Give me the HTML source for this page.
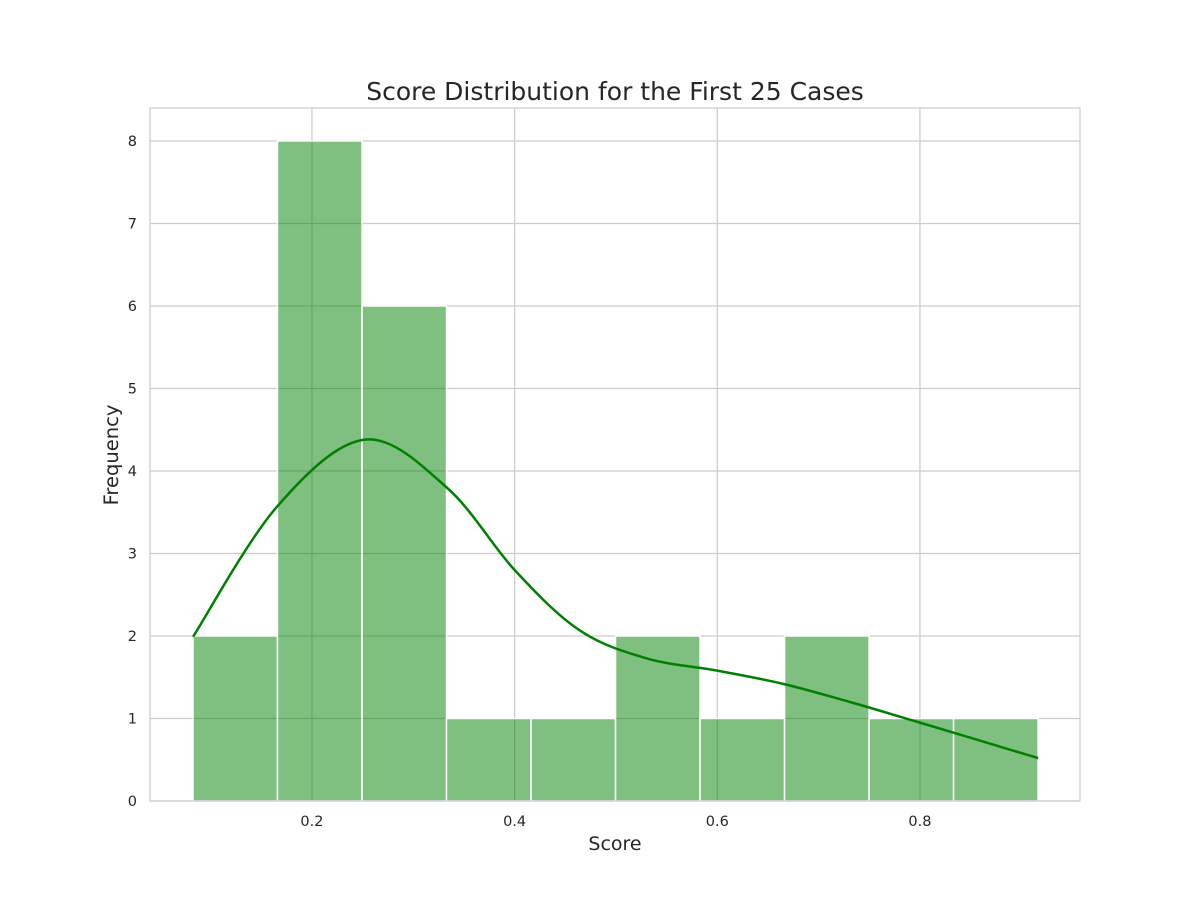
<!DOCTYPE html>
<html><head><meta charset="utf-8"><style>
body{margin:0;background:#fff;}
svg text{font-family:"DejaVu Sans","Liberation Sans",sans-serif;fill:#262626;}
</style></head><body>
<svg id="chart" width="1200" height="900">
<rect x="0" y="0" width="1200" height="900" fill="#fff"/>
<g id="grid"></g><g id="bars"></g><g id="kde"></g><g id="ticks"></g>
<rect x="150" y="108" width="930" height="693" fill="none" stroke="#cccccc" stroke-width="1.25"/>
<text x="615" y="100" font-size="25" text-anchor="middle">Score Distribution for the First 25 Cases</text>
<text x="615" y="850" font-size="19" text-anchor="middle">Score</text>
<text x="118" y="455" font-size="19.5" text-anchor="middle" transform="rotate(-90 118 455)">Frequency</text>
</svg>
<script>
const binEdgeStart = 0.0826;
const binWidth = 0.0834;
const counts = [2, 8, 6, 1, 1, 2, 1, 2, 1, 1];
const xTicks = [0.2, 0.4, 0.6, 0.8];
const xTickLabels = ["0.2", "0.4", "0.6", "0.8"];
const yTicks = [0, 1, 2, 3, 4, 5, 6, 7, 8];
const kdeX = [0.0826, 0.165, 0.252, 0.333, 0.4, 0.464, 0.53, 0.6, 0.665, 0.731, 0.8, 0.9166];
const kdeY = [1.99, 3.56, 4.38, 3.8, 2.8, 2.07, 1.73, 1.58, 1.42, 1.2, 0.95, 0.52];
const NS = "http://www.w3.org/2000/svg";
const xs = v => 109.3 + v * 1013.3;
const ys = v => 801 - v * 82.5;
function mk(tag, attrs, parent){const e=document.createElementNS(NS,tag);for(const k in attrs)e.setAttribute(k,attrs[k]);document.getElementById(parent).appendChild(e);return e;}
yTicks.forEach(t=>{
  const l=mk("line",{x1:150,x2:1080,y1:ys(t),y2:ys(t),stroke:"#cccccc","stroke-width":1.25},"grid");
  
  
  const tx=mk("text",{x:137,y:ys(t)+5,"font-size":14.5,"text-anchor":"end"},"ticks");
  tx.textContent=t;
  
  
});
xTicks.forEach((t,i)=>{
  const l=mk("line",{x1:xs(t),x2:xs(t),y1:108,y2:801,stroke:"#cccccc","stroke-width":1.25},"grid");
  
  
  const tx=mk("text",{x:xs(t),y:826,"font-size":14.5,"text-anchor":"middle"},"ticks");
  tx.textContent=xTickLabels[i];
  
  
});
counts.forEach((c,i)=>{
  const x0=xs(binEdgeStart+i*binWidth), x1=xs(binEdgeStart+(i+1)*binWidth);
  const r=mk("rect",{x:x0,y:ys(c),width:x1-x0,height:ys(0)-ys(c),fill:"rgba(0,128,0,0.5)",stroke:"#ffffff","stroke-width":1.5},"bars");
  
  
});
const P=kdeX.map((x,i)=>[xs(x),ys(kdeY[i])]);
let d=`M${P[0][0]},${P[0][1]}`;
for(let i=0;i<P.length-1;i++){
  const p0=P[Math.max(0,i-1)],p1=P[i],p2=P[i+1],p3=P[Math.min(P.length-1,i+2)];
  const c1=[p1[0]+(p2[0]-p0[0])/6,p1[1]+(p2[1]-p0[1])/6];
  const c2=[p2[0]-(p3[0]-p1[0])/6,p2[1]-(p3[1]-p1[1])/6];
  d+=` C${c1[0]},${c1[1]} ${c2[0]},${c2[1]} ${p2[0]},${p2[1]}`;
}
const k=mk("path",{d:d,fill:"none",stroke:"#008000","stroke-width":2.5},"kde");


</script>
</body></html>
